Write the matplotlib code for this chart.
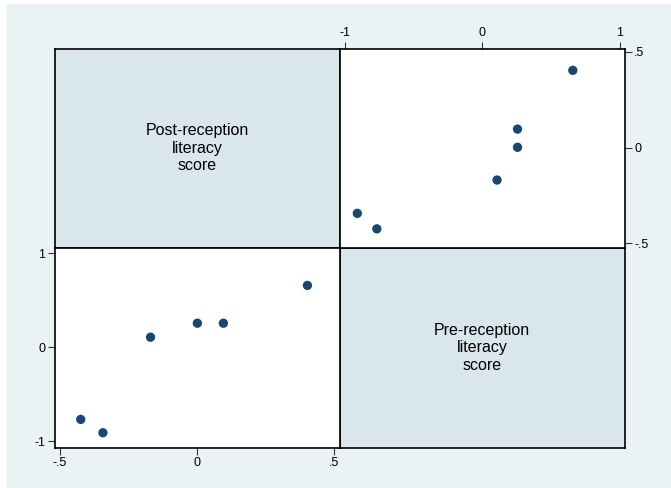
import matplotlib
matplotlib.use('Agg')
import matplotlib.pyplot as plt
from matplotlib.patches import Rectangle

plt.rcParams['font.family'] = ['Liberation Sans', 'DejaVu Sans']

# literacy scores
post_score = [-0.424, -0.343, -0.169, 0.002, 0.097, 0.404]
pre_score = [-0.765, -0.907, 0.109, 0.258, 0.258, 0.660]

post_label = 'Post-reception\nliteracy\nscore'
pre_label = 'Pre-reception\nliteracy\nscore'

post_ticks = [-0.5, 0, 0.5]
post_ticklabels = ['-.5', '0', '.5']
pre_ticks = [-1, 0, 1]
pre_ticklabels = ['-1', '0', '1']

W, H = 671, 488
outer_bg = '#EAF2F3'
diag_bg = '#D9E6EC'
marker_col = '#1A476F'

fig = plt.figure(figsize=(W / 100, H / 100), dpi=100, facecolor='white')
fig.patches.append(Rectangle((7 / W, 0), 1 - 7 / W, 1 - 4 / H,
                             transform=fig.transFigure, color=outer_bg, zorder=-10))

# cell edges in pixels
x0, x1, x2 = 55, 340, 624.5
y0, y1, y2 = 48.5, 248, 447.5


def cell(left, top, right, bottom):
    return fig.add_axes([left / W, 1 - bottom / H, (right - left) / W, (bottom - top) / H])


def style(ax, face):
    ax.set_facecolor(face)
    for s in ax.spines.values():
        s.set_linewidth(1.2)
        s.set_color('black')
    ax.tick_params(length=5, width=0.8, labelsize=9, pad=2, color='#333333')


# top-left: diagonal label
ax_tl = cell(x0, y0, x1, y1)
style(ax_tl, diag_bg)
ax_tl.set_xticks([])
ax_tl.set_yticks([])
ax_tl.text(0.5, 0.5, post_label, ha='center', va='center', fontsize=11.5,
           linespacing=1.2, transform=ax_tl.transAxes)

# bottom-right: diagonal label
ax_br = cell(x1, y1, x2, y2)
style(ax_br, diag_bg)
ax_br.set_xticks([])
ax_br.set_yticks([])
ax_br.text(0.5, 0.5, pre_label, ha='center', va='center', fontsize=11.5,
           linespacing=1.2, transform=ax_br.transAxes)

# top-right: x = pre, y = post
ax_tr = cell(x1, y0, x2, y1)
style(ax_tr, 'white')
ax_tr.scatter(pre_score, post_score, s=45, color=marker_col, edgecolors='none', zorder=3)
ax_tr.set_xlim(-1.033, 1.036)
ax_tr.set_ylim(-0.524, 0.518)
ax_tr.xaxis.tick_top()
ax_tr.yaxis.tick_right()
ax_tr.set_xticks(pre_ticks)
ax_tr.set_xticklabels(pre_ticklabels)
ax_tr.set_yticks(post_ticks)
ax_tr.set_yticklabels(post_ticklabels)

# bottom-left: x = post, y = pre
ax_bl = cell(x0, y1, x1, y2)
style(ax_bl, 'white')
ax_bl.scatter(post_score, pre_score, s=45, color=marker_col, edgecolors='none', zorder=3)
ax_bl.set_xlim(-0.518, 0.523)
ax_bl.set_ylim(-1.064, 1.058)
ax_bl.set_xticks(post_ticks)
ax_bl.set_xticklabels(post_ticklabels)
ax_bl.set_yticks(pre_ticks)
ax_bl.set_yticklabels(pre_ticklabels)

fig.savefig('out.png', dpi=100, facecolor=fig.get_facecolor())
